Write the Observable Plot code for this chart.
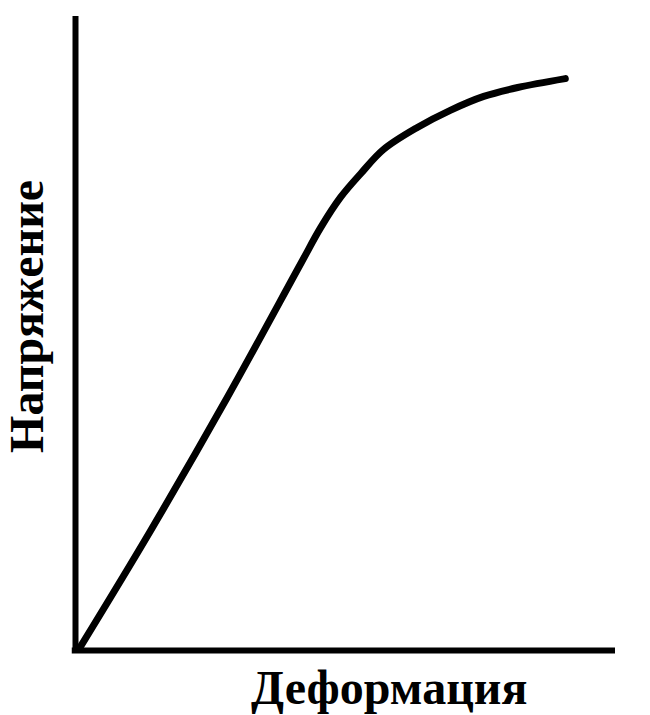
<!DOCTYPE html>
<html>
<head>
<meta charset="utf-8">
<script src="https://cdn.jsdelivr.net/npm/d3@7"></script>
<script src="https://cdn.jsdelivr.net/npm/@observablehq/plot@0.6"></script>
<style>
  html, body { margin: 0; padding: 0; background: #fff; }
  #chart svg { display: block; }
  #chart text { font-family: "Liberation Serif", "Times New Roman", serif !important; }
</style>
</head>
<body>
<div id="chart"></div>
<script>
// Stress–strain curve (arbitrary units, 0..100)
const strain = [0.7, 13.9, 28.1, 41.7, 45.4, 49.1, 52.8, 57.0, 63.3, 69.4, 75.6, 81.9, 90.7];
const stress = [0.3, 18.9, 39.9, 61.0, 66.7, 71.5, 75.2, 79.0, 82.5, 85.2, 87.4, 88.8, 90.2];
const xLabel = "Деформация";
const yLabel = "Напряжение";

const curve = strain.map((x, i) => ({x, y: stress[i]}));

const chart = Plot.plot({
  width: 650,
  height: 715,
  marginLeft: 75,
  marginRight: 35,
  marginTop: 16,
  marginBottom: 65,
  style: {background: "#fff", fontFamily: "'Liberation Serif', 'Times New Roman', serif"},
  x: {domain: [0, 100], axis: null},
  y: {domain: [0, 100], axis: null},
  marks: [
    Plot.ruleX([0], {y1: 0, y2: 100, stroke: "#000", strokeWidth: 6}),
    Plot.ruleY([0], {x1: -0.6, x2: 100, stroke: "#000", strokeWidth: 6}),
    Plot.line(curve, {x: "x", y: "y", curve: "catmull-rom", stroke: "#000", strokeWidth: 7, strokeLinecap: "round"}),
    Plot.text([xLabel], {x: 58.1, y: -8.36, text: d => d, textAnchor: "middle", lineAnchor: "bottom",
      fontFamily: "'Liberation Serif', 'Times New Roman', serif", fontWeight: "bold", fontSize: 48, fill: "#000", clip: false}),
    Plot.text([yLabel], {x: -6.1, y: 52.7, text: d => d, rotate: -90, textAnchor: "middle", lineAnchor: "bottom",
      fontFamily: "'Liberation Serif', 'Times New Roman', serif", fontWeight: "bold", fontSize: 48, fill: "#000", clip: false})
  ]
});
document.getElementById("chart").appendChild(chart);
</script>
</body>
</html>
